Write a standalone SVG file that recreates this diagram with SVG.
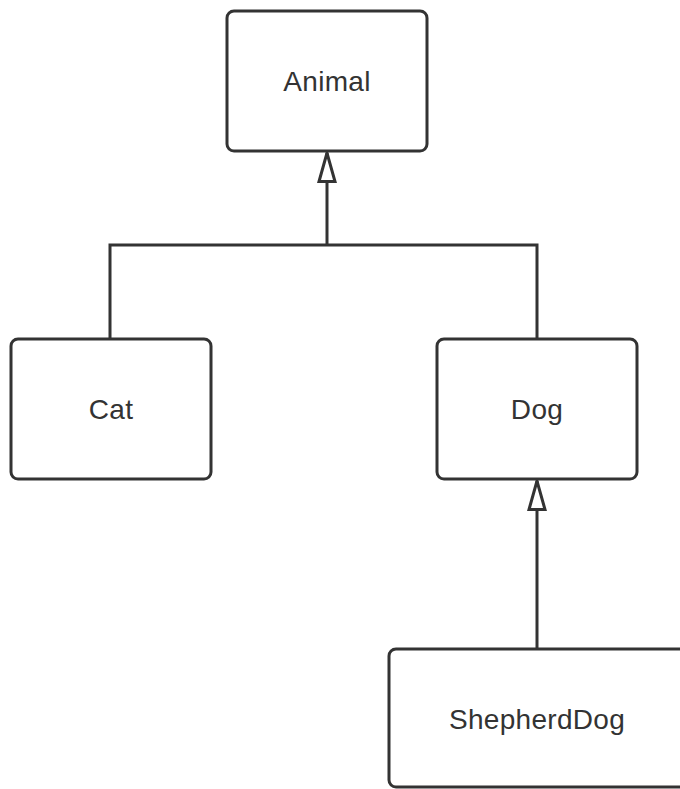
<svg xmlns="http://www.w3.org/2000/svg" width="680" height="789" viewBox="0 0 680 789">
<style>
.box{fill:#fff;stroke:#333;stroke-width:3}
.lbl{font-family:"Liberation Sans",Arial,sans-serif;font-size:28px;fill:#333;text-anchor:middle;letter-spacing:0.3px}
.edge{fill:none;stroke:#333;stroke-width:3}
</style>
<defs>
<marker id="tri" markerWidth="32" markerHeight="20" refX="30.5" refY="10" orient="auto" markerUnits="userSpaceOnUse" viewBox="0 0 32 20">
<path d="M30.5 10 L2 2 L2 18 Z" fill="#fff" stroke="#333" stroke-width="3" stroke-linejoin="miter"/>
</marker>
</defs>
<rect width="680" height="789" fill="#fff"/>
<g id="connectors">
<path class="edge" d="M110 339 V245 H537 V339"/>
<path class="edge" d="M327 245 V153" marker-end="url(#tri)"/>
<path class="edge" d="M537 649 V481" marker-end="url(#tri)"/>
</g>
<g id="animal"><rect class="box" x="227" y="11" width="200" height="140" rx="7"/><text class="lbl" x="327" y="91">Animal</text></g>
<g id="cat"><rect class="box" x="11" y="339" width="200" height="140" rx="7"/><text class="lbl" x="111" y="419">Cat</text></g>
<g id="dog"><rect class="box" x="437" y="339" width="200" height="140" rx="7"/><text class="lbl" x="537" y="419">Dog</text></g>
<g id="shepherddog"><rect class="box" x="389" y="649" width="300" height="138" rx="7"/><text class="lbl" x="537" y="729">ShepherdDog</text></g>
</svg>
